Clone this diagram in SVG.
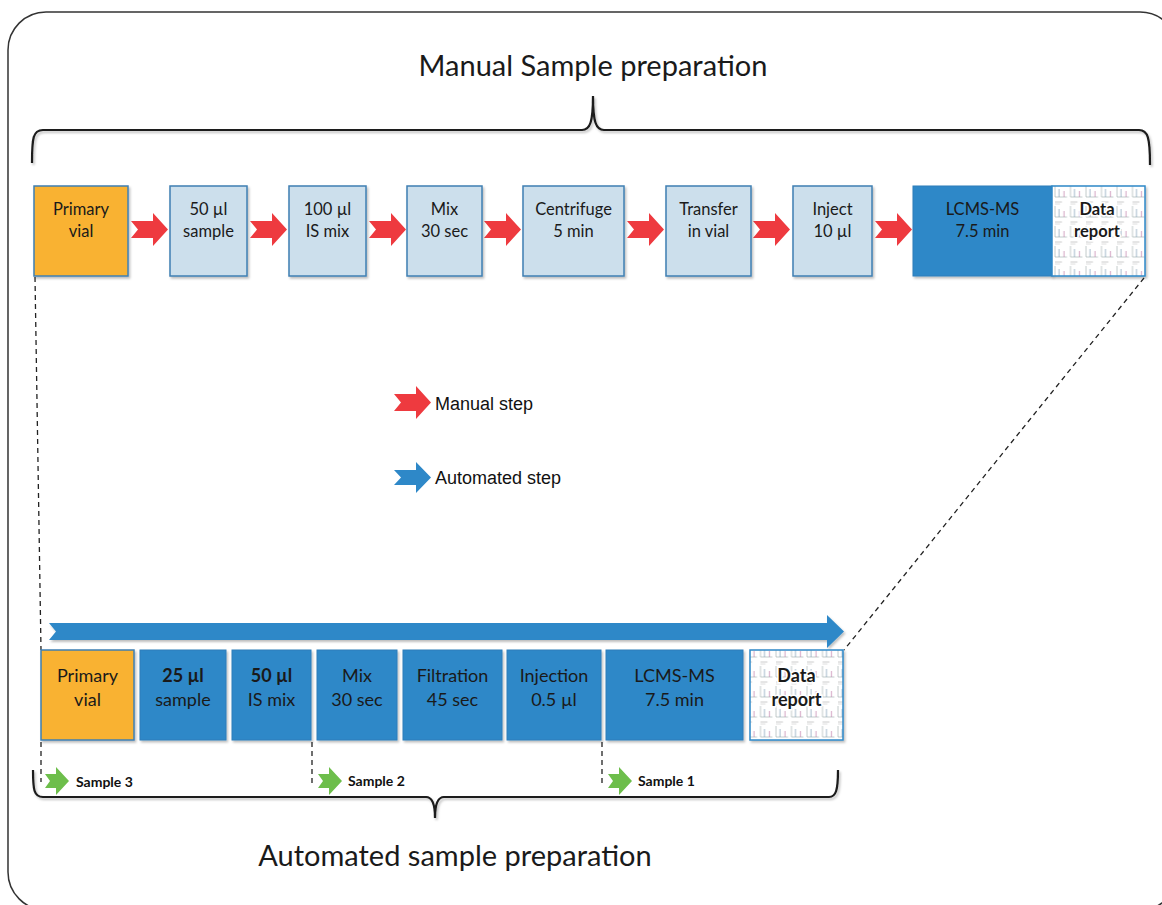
<svg xmlns="http://www.w3.org/2000/svg" xmlns:xlink="http://www.w3.org/1999/xlink" width="1162" height="905" viewBox="0 0 1162 905">
<style>
.frame{fill:none;stroke:#333;stroke-width:1.5}
.brace{fill:none;stroke:#1a1a1a;stroke-width:2.2}
.lb{fill:#CCDFEC;stroke:#3F7FB3;stroke-width:1.5}
.or{fill:#F9B233;stroke:#3F7FB3;stroke-width:1.5}
.bl{fill:#2E88C8;stroke:#2E7DBA;stroke-width:1}
.t{font-family:Lato,"Open Sans",sans-serif;font-size:16.5px;fill:#1a1a1a;text-anchor:middle}
.t2{font-family:Lato,"Open Sans",sans-serif;font-size:18px;fill:#1a1a1a;text-anchor:middle}
.b{font-weight:bold}
.title{font-family:Lato,"Open Sans",sans-serif;font-size:29px;fill:#1a1a1a;text-anchor:middle}
.leg{font-family:"Liberation Sans",Arial,sans-serif;font-size:18px;fill:#111}
.smp{font-family:Lato,"Open Sans",sans-serif;font-size:14px;font-weight:bold;fill:#111}
.dash{fill:none;stroke:#222;stroke-width:1.3;stroke-dasharray:5,4}
.halo{stroke:#fff;stroke-width:3;paint-order:stroke}
</style>
<defs>
<filter id="sh" x="-10%" y="-10%" width="130%" height="130%">
<feDropShadow dx="1.5" dy="2" stdDeviation="1.2" flood-color="#000" flood-opacity="0.25"/>
</filter>
<polygon id="redArrow" points="0,8 22,8 22,0 37,16.5 22,33 22,25 0,25 7,16.5" fill="#EE3A3F"/>
<polygon id="blueArrow" points="0,8 22,8 22,0 37,15.5 22,31 22,23 0,23 7,15.5" fill="#2E88C8"/>
<polygon id="greenArrow" points="0,7 11,7 11,0 24,14 11,28 11,21 0,21 5,14" fill="#6DBE4B"/>
<pattern id="rep" x="0" y="0" width="15.5" height="20" patternUnits="userSpaceOnUse">
<rect width="15.5" height="20" fill="#fff"/>
<line x1="1" y1="2" x2="8" y2="2" stroke="#aaa" stroke-width="0.6"/>
<line x1="1" y1="4" x2="6" y2="4" stroke="#bbb" stroke-width="0.5"/>
<polyline points="1,6 1,17 13,17" fill="none" stroke="#9aa" stroke-width="0.6"/>
<line x1="5" y1="9" x2="5" y2="17" stroke="#7a9ab5" stroke-width="0.7"/>
<line x1="10" y1="11" x2="10" y2="17" stroke="#c07aa8" stroke-width="0.7"/>
</pattern>
</defs>

<rect class="frame" x="8" y="12" width="1170" height="898" rx="38"/>

<g id="title-manual"><text class="title" x="593" y="76">Manual Sample preparation</text></g>
<g id="brace-top" filter="url(#sh)"><path class="brace" d="M32,163 C32,138 33,130 43,130 L582,130 C590,130 593,122 593,96 C593,122 596,130 604,130 L1139,130 C1148,130 1150,138 1150,165"/></g>

<g id="connectors">
<line class="dash" x1="35" y1="277" x2="41" y2="650"/>
<line class="dash" x1="1144" y1="278" x2="844" y2="650"/>
<line class="dash" x1="41" y1="742" x2="41" y2="782"/>
<line class="dash" x1="312" y1="742" x2="312" y2="786"/>
<line class="dash" x1="602" y1="742" x2="602" y2="786"/>
<use href="#redArrow" x="131" y="213"/>
<use href="#redArrow" x="250" y="213"/>
<use href="#redArrow" x="369" y="213"/>
<use href="#redArrow" x="484" y="213"/>
<use href="#redArrow" x="627" y="213"/>
<use href="#redArrow" x="753" y="213"/>
<use href="#redArrow" x="875" y="213"/>
<polygon id="bigArrow" points="49,623 827,623 827,615 844,631.5 827,648 827,640 49,640 56,631.5" fill="#2E88C8" filter="url(#sh)"/>
</g>

<g id="n-top-vial" filter="url(#sh)"><rect class="or" x="34" y="186" width="94" height="90"/></g>
<text class="t" x="81" y="215">Primary</text><text class="t" x="81" y="237">vial</text>
<g id="n-top-sample" filter="url(#sh)"><rect class="lb" x="170" y="186" width="77" height="90"/></g>
<text class="t" x="208.5" y="215">50 µl</text><text class="t" x="208.5" y="237">sample</text>
<g id="n-top-is" filter="url(#sh)"><rect class="lb" x="289" y="186" width="77" height="90"/></g>
<text class="t" x="327.5" y="215">100 µl</text><text class="t" x="327.5" y="237">IS mix</text>
<g id="n-top-mix" filter="url(#sh)"><rect class="lb" x="407" y="186" width="75" height="90"/></g>
<text class="t" x="444.5" y="215">Mix</text><text class="t" x="444.5" y="237">30 sec</text>
<g id="n-top-centrifuge" filter="url(#sh)"><rect class="lb" x="523" y="186" width="101" height="90"/></g>
<text class="t" x="573.5" y="215">Centrifuge</text><text class="t" x="573.5" y="237">5 min</text>
<g id="n-top-transfer" filter="url(#sh)"><rect class="lb" x="666" y="186" width="85" height="90"/></g>
<text class="t" x="708.5" y="215">Transfer</text><text class="t" x="708.5" y="237">in vial</text>
<g id="n-top-inject" filter="url(#sh)"><rect class="lb" x="793" y="186" width="79" height="90"/></g>
<text class="t" x="832.5" y="215">Inject</text><text class="t" x="832.5" y="237">10 µl</text>
<g id="n-top-lcms" filter="url(#sh)"><rect class="bl" x="913" y="186" width="139" height="90"/></g>
<text class="t" x="982.5" y="215">LCMS-MS</text><text class="t" x="982.5" y="237">7.5 min</text>
<g id="n-top-report" filter="url(#sh)"><rect x="1052" y="186" width="93" height="90" fill="url(#rep)" stroke="#2E88C8" stroke-width="1.5"/></g>
<text class="t b halo" x="1097" y="215">Data</text><text class="t b halo" x="1097" y="237">report</text>

<g id="legend">
<use href="#redArrow" x="394" y="386"/>
<text class="leg" x="435" y="410">Manual step</text>
<use href="#blueArrow" x="394" y="462"/>
<text class="leg" x="435" y="484">Automated step</text>
</g>

<g id="n-bot-vial" filter="url(#sh)"><rect class="or" x="41" y="650" width="93" height="90"/></g>
<text class="t2" x="87.5" y="682">Primary</text><text class="t2" x="87.5" y="706">vial</text>
<g id="n-bot-sample" filter="url(#sh)"><rect class="bl" x="140" y="650" width="86" height="90"/></g>
<text class="t2 b" x="183" y="682">25 µl</text><text class="t2" x="183" y="706">sample</text>
<g id="n-bot-is" filter="url(#sh)"><rect class="bl" x="232" y="650" width="79" height="90"/></g>
<text class="t2 b" x="271.5" y="682">50 µl</text><text class="t2" x="271.5" y="706">IS mix</text>
<g id="n-bot-mix" filter="url(#sh)"><rect class="bl" x="317" y="650" width="80" height="90"/></g>
<text class="t2" x="357" y="682">Mix</text><text class="t2" x="357" y="706">30 sec</text>
<g id="n-bot-filtration" filter="url(#sh)"><rect class="bl" x="403" y="650" width="99" height="90"/></g>
<text class="t2" x="452.5" y="682">Filtration</text><text class="t2" x="452.5" y="706">45 sec</text>
<g id="n-bot-injection" filter="url(#sh)"><rect class="bl" x="507" y="650" width="94" height="90"/></g>
<text class="t2" x="554" y="682">Injection</text><text class="t2" x="554" y="706">0.5 µl</text>
<g id="n-bot-lcms" filter="url(#sh)"><rect class="bl" x="606" y="650" width="137" height="90"/></g>
<text class="t2" x="674.5" y="682">LCMS-MS</text><text class="t2" x="674.5" y="706">7.5 min</text>
<g id="n-bot-report" filter="url(#sh)"><rect x="750" y="650" width="93" height="90" fill="url(#rep)" stroke="#2E88C8" stroke-width="1.5"/></g>
<text class="t2 b halo" x="796.5" y="682">Data</text><text class="t2 b halo" x="796.5" y="706">report</text>

<g id="samples">
<use href="#greenArrow" x="45" y="767"/>
<text class="smp" x="76" y="787">Sample 3</text>
<use href="#greenArrow" x="318" y="767"/>
<text class="smp" x="348" y="786">Sample 2</text>
<use href="#greenArrow" x="608" y="767"/>
<text class="smp" x="638" y="786">Sample 1</text>
</g>

<g id="brace-bottom" filter="url(#sh)"><path class="brace" d="M33,770 C33,790 34,797 43,797 L426,797 C432,797 435,804 435,818 C435,804 438,797 444,797 L829,797 C836,797 838,790 838,770"/></g>
<g id="title-auto"><text class="title" x="455" y="866">Automated sample preparation</text></g>
</svg>
